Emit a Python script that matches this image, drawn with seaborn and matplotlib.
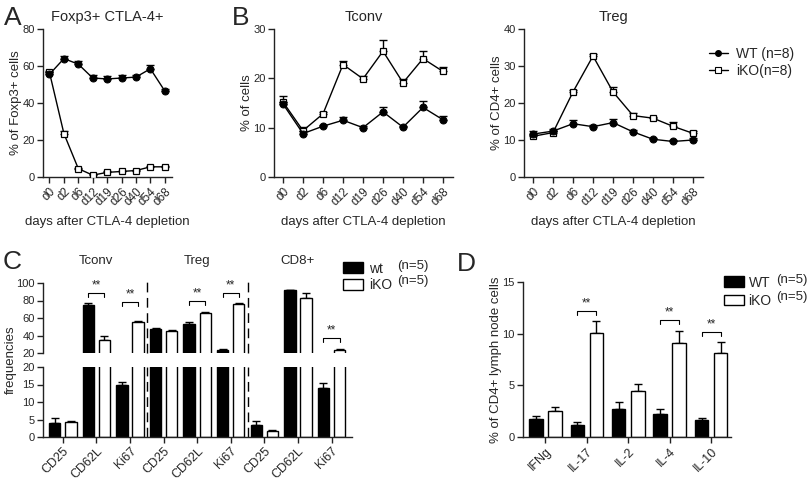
import matplotlib
matplotlib.use('Agg')
import matplotlib.pyplot as plt
from matplotlib.container import BarContainer
from matplotlib.lines import Line2D
from matplotlib.patches import Patch
import numpy as np
import pandas as pd
import seaborn as sns

# ---- data: panels A and B (time course) ----
days = ['d0', 'd2', 'd6', 'd12', 'd19', 'd26', 'd40', 'd54', 'd68']

foxp3_wt = [55.5, 64.0, 61.0, 53.5, 53.0, 53.5, 54.0, 58.5, 46.5]
foxp3_wt_err = [1.0, 1.5, 1.5, 1.5, 1.5, 1.5, 1.0, 2.0, 1.2]
foxp3_ko = [56.5, 23.5, 4.5, 1.0, 2.5, 3.0, 3.5, 5.5, 5.5]
foxp3_ko_err = [1.0, 1.5, 0.5, 0.8, 0.5, 0.5, 0.5, 0.5, 0.5]

tconv_wt = [14.8, 8.8, 10.3, 11.5, 10.0, 13.2, 10.1, 14.1, 11.6]
tconv_wt_err = [0.5, 0.5, 0.3, 0.6, 0.3, 1.0, 0.3, 1.3, 0.8]
tconv_ko = [15.2, 9.4, 12.8, 22.8, 19.9, 25.5, 19.1, 24.0, 21.4]
tconv_ko_err = [1.3, 0.8, 0.3, 0.8, 0.5, 2.2, 0.7, 1.5, 0.8]

treg_wt = [11.6, 12.4, 14.4, 13.6, 14.7, 12.2, 10.2, 9.6, 10.0]
treg_wt_err = [0.7, 0.5, 1.0, 0.5, 1.0, 0.4, 0.3, 0.3, 0.5]
treg_ko = [11.0, 12.0, 23.0, 32.7, 23.0, 16.6, 15.9, 13.7, 11.8]
treg_ko_err = [0.3, 0.3, 0.4, 0.6, 1.2, 0.6, 0.4, 1.2, 0.6]

# ---- data: panel C (broken axis bars) ----
c_groups = ['Tconv', 'Treg', 'CD8+']
c_markers = ['CD25', 'CD62L', 'Ki67']
c_wt = [4.0, 75.0, 15.0, 47.5, 53.5, 23.5, 3.5, 92.0, 14.0]
c_wt_err = [1.3, 2.5, 0.8, 1.5, 2.0, 0.8, 1.0, 0.5, 1.3]
c_ko = [4.3, 35.0, 55.0, 45.0, 65.5, 76.0, 1.7, 83.0, 24.0]
c_ko_err = [0.4, 4.0, 2.0, 1.0, 1.5, 1.5, 0.3, 5.0, 0.5]
c_sig = [(1, 88), (2, 78), (4, 79), (5, 88), (8, 37)]

# ---- data: panel D ----
cytokines = ['IFNg', 'IL-17', 'IL-2', 'IL-4', 'IL-10']
d_wt = [1.7, 1.15, 2.7, 2.2, 1.6]
d_wt_err = [0.35, 0.3, 0.7, 0.5, 0.25]
d_ko = [2.5, 10.1, 4.5, 9.1, 8.1]
d_ko_err = [0.4, 1.1, 0.6, 1.2, 1.1]
d_sig = [(1, 12.2), (3, 11.3), (4, 10.2)]

W, H = 810, 480


def box(left, top, right, bottom):
    return [left / W, 1 - bottom / H, (right - left) / W, (bottom - top) / H]


def ftext(fig, x, y, s, **kw):
    fig.text(x / W, 1 - y / H, s, **kw)


def style_axis(ax, xsize=8.5):
    sns.despine(ax=ax)
    for sp in ax.spines.values():
        sp.set_linewidth(1)
        sp.set_color('#222222')
    ax.tick_params(direction='out', length=4, width=1, color='#222222',
                   pad=2)
    ax.tick_params(axis='y', labelsize=8)
    ax.tick_params(axis='x', labelsize=xsize)


def plot_time_course(ax, wt, wt_err, ko, ko_err, ymax, ystep, title, ylabel):
    pos = np.arange(len(days))
    n = len(days)
    df = pd.DataFrame({'pos': np.tile(pos, 2),
                       'value': np.r_[wt, ko],
                       'group': ['WT'] * n + ['iKO'] * n})
    ax.errorbar(pos, wt, yerr=[np.zeros(n), wt_err], fmt='none',
                ecolor='black', elinewidth=1, capsize=3, zorder=2)
    ax.errorbar(pos, ko, yerr=[np.zeros(n), ko_err], fmt='none',
                ecolor='black', elinewidth=1, capsize=3, zorder=2)
    sns.lineplot(data=df[df.group == 'iKO'], x='pos', y='value', ax=ax,
                 color='black', lw=1, marker='s', markersize=4.6,
                 markerfacecolor='white', markeredgecolor='black',
                 markeredgewidth=0.9, zorder=3)
    sns.lineplot(data=df[df.group == 'WT'], x='pos', y='value', ax=ax,
                 color='black', lw=1, marker='o', markersize=5,
                 markeredgecolor='black', zorder=4)
    ax.set_xlim(-0.45, len(days) - 0.5)
    ax.set_ylim(0, ymax)
    ax.set_yticks(np.arange(0, ymax + 1, ystep))
    ax.set_xticks(pos)
    ax.set_xticklabels(days, rotation=45, ha='right', rotation_mode='anchor')
    ax.set_xlabel('days after CTLA-4 depletion', fontsize=9.5, labelpad=6)
    ax.set_ylabel(ylabel, fontsize=9.5, labelpad=0)
    ax.set_title(title, fontsize=10.5, pad=6)
    style_axis(ax)


def bar_centers(ax):
    out = []
    for cont in ax.containers:
        if isinstance(cont, BarContainer):
            out.append([b.get_x() + b.get_width() / 2 for b in cont])
    return out


def add_errors(ax, centers, values, errs):
    values = np.asarray(values)
    ax.errorbar(centers, values, yerr=[np.zeros(len(values)), errs],
                fmt='none', ecolor='black', elinewidth=1, capsize=3, zorder=1)


def add_bracket(ax, x0, x1, y, tick):
    ax.plot([x0, x0, x1, x1], [y - tick, y, y, y - tick], color='black',
            lw=0.8, clip_on=False)
    ax.text((x0 + x1) / 2, y + tick * 0.4, '**', ha='center', va='bottom',
            fontsize=8.5)


def plot_panel_c(fig):
    cats = [g + ' ' + m for g in c_groups for m in c_markers]
    n = len(cats)
    df = pd.DataFrame({'cat': cats * 2,
                       'value': c_wt + c_ko,
                       'genotype': ['wt'] * n + ['iKO'] * n})
    ax_top = fig.add_axes(box(43, 283, 352, 353))
    ax_bot = fig.add_axes(box(43, 367, 352, 437))
    for ax in (ax_top, ax_bot):
        sns.barplot(data=df, x='cat', y='value', hue='genotype',
                    hue_order=['wt', 'iKO'], order=cats,
                    palette={'wt': 'black', 'iKO': 'white'},
                    edgecolor='black', linewidth=1, width=0.96, gap=0.3,
                    errorbar=None, legend=False, ax=ax, zorder=2)
        wt_x, ko_x = bar_centers(ax)
        add_errors(ax, wt_x, c_wt, c_wt_err)
        add_errors(ax, ko_x, c_ko, c_ko_err)
        ax.set_xlim(-0.59, n - 0.39)
        ax.set_xlabel('')
        ax.set_ylabel('')
        style_axis(ax, xsize=9)
        for xv in (2.5, 5.5):
            ax.axvline(xv, color='black', lw=1, ls=(0, (7, 4)),
                       ymax=1.07 if ax is ax_top else 1.0, clip_on=False)
    ax_top.set_ylim(20, 100)
    ax_top.set_yticks([20, 40, 60, 80, 100])
    ax_top.spines['bottom'].set_visible(False)
    ax_top.tick_params(axis='x', bottom=False, labelbottom=False)
    ax_bot.set_ylim(0, 20)
    ax_bot.set_yticks([0, 5, 10, 15, 20])
    ax_bot.set_xticks(range(n))
    ax_bot.set_xticklabels(c_markers * len(c_groups), rotation=45,
                           ha='right', rotation_mode='anchor')
    wt_x, ko_x = bar_centers(ax_top)
    for i, y in c_sig:
        add_bracket(ax_top, wt_x[i], ko_x[i], y, 4.5)
    for k, g in enumerate(c_groups):
        ax_top.text(k * 3 + 1, 1.32, g, transform=ax_top.get_xaxis_transform(),
                    ha='center', va='center', fontsize=9.5)
    ftext(fig, 11, 360, 'frequencies', rotation=90, ha='center', va='center',
          fontsize=9.5)
    handles = [Patch(facecolor='black', edgecolor='black'),
               Patch(facecolor='white', edgecolor='black')]
    fig.legend(handles, ['wt', 'iKO'], loc='upper left',
               bbox_to_anchor=(337 / W, 1 - 256 / H), frameon=False,
               fontsize=10, handlelength=1.5, handleheight=0.8,
               labelspacing=0.2, handletextpad=0.4, borderaxespad=0)
    ftext(fig, 397, 266, '(n=5)', fontsize=9.5, va='center')
    ftext(fig, 397, 281, '(n=5)', fontsize=9.5, va='center')


def plot_panel_d(fig):
    n = len(cytokines)
    df = pd.DataFrame({'cytokine': cytokines * 2,
                       'value': d_wt + d_ko,
                       'genotype': ['WT'] * n + ['iKO'] * n})
    ax = fig.add_axes(box(523, 282, 731, 437))
    sns.barplot(data=df, x='cytokine', y='value', hue='genotype',
                hue_order=['WT', 'iKO'], order=cytokines,
                palette={'WT': 'black', 'iKO': 'white'},
                edgecolor='black', linewidth=1, width=0.92, gap=0.29,
                errorbar=None, legend=False, ax=ax, zorder=2)
    wt_x, ko_x = bar_centers(ax)
    add_errors(ax, wt_x, d_wt, d_wt_err)
    add_errors(ax, ko_x, d_ko, d_ko_err)
    for i, y in d_sig:
        add_bracket(ax, wt_x[i], ko_x[i], y, 0.4)
    ax.set_xlim(-0.54, n - 0.52)
    ax.set_ylim(0, 15)
    ax.set_yticks([0, 5, 10, 15])
    ax.set_xticks(range(n))
    ax.set_xticklabels(cytokines, rotation=45, ha='right',
                       rotation_mode='anchor')
    ax.set_xlabel('')
    ax.set_ylabel('% of CD4+ lymph node cells', fontsize=9.5, labelpad=0)
    style_axis(ax, xsize=9)
    handles = [Patch(facecolor='black', edgecolor='black'),
               Patch(facecolor='white', edgecolor='black')]
    fig.legend(handles, ['WT', 'iKO'], loc='upper left',
               bbox_to_anchor=(718 / W, 1 - 270 / H), frameon=False,
               fontsize=10, handlelength=1.5, handleheight=0.8,
               labelspacing=0.3, handletextpad=0.3, borderaxespad=0)
    ftext(fig, 776, 280, '(n=5)', fontsize=9.5, va='center')
    ftext(fig, 776, 297, '(n=5)', fontsize=9.5, va='center')


def main():
    sns.set_style('ticks')
    plt.rcParams['font.family'] = ['Liberation Sans', 'DejaVu Sans']
    fig = plt.figure(figsize=(W / 100, H / 100), dpi=100)

    ax_a = fig.add_axes(box(43, 29, 172, 177))
    plot_time_course(ax_a, foxp3_wt, foxp3_wt_err, foxp3_ko, foxp3_ko_err,
                     80, 20, 'Foxp3+ CTLA-4+', '% of Foxp3+ cells')
    ax_b1 = fig.add_axes(box(274, 29, 453, 177))
    plot_time_course(ax_b1, tconv_wt, tconv_wt_err, tconv_ko, tconv_ko_err,
                     30, 10, 'Tconv', '% of cells')
    ax_b2 = fig.add_axes(box(524, 29, 703, 177))
    plot_time_course(ax_b2, treg_wt, treg_wt_err, treg_ko, treg_ko_err,
                     40, 10, 'Treg', '% of CD4+ cells')

    handles = [Line2D([], [], color='black', lw=1, marker='o', ms=4),
               Line2D([], [], color='black', lw=1, marker='s', ms=4,
                      mfc='white', mec='black', mew=0.8)]
    fig.legend(handles, ['WT (n=8)', 'iKO(n=8)'], loc='upper left',
               bbox_to_anchor=(703 / W, 1 - 41 / H), frameon=False,
               fontsize=10, handlelength=1.4, labelspacing=0.25,
               handletextpad=0.6, borderaxespad=0)

    plot_panel_c(fig)
    plot_panel_d(fig)

    for letter, x, y in [('A', 4, 6), ('B', 232, 6), ('C', 3, 250),
                         ('D', 457, 252)]:
        ftext(fig, x, y, letter, fontsize=19, va='top', ha='left')

    fig.savefig('out.png', dpi=100)


if __name__ == '__main__':
    main()
